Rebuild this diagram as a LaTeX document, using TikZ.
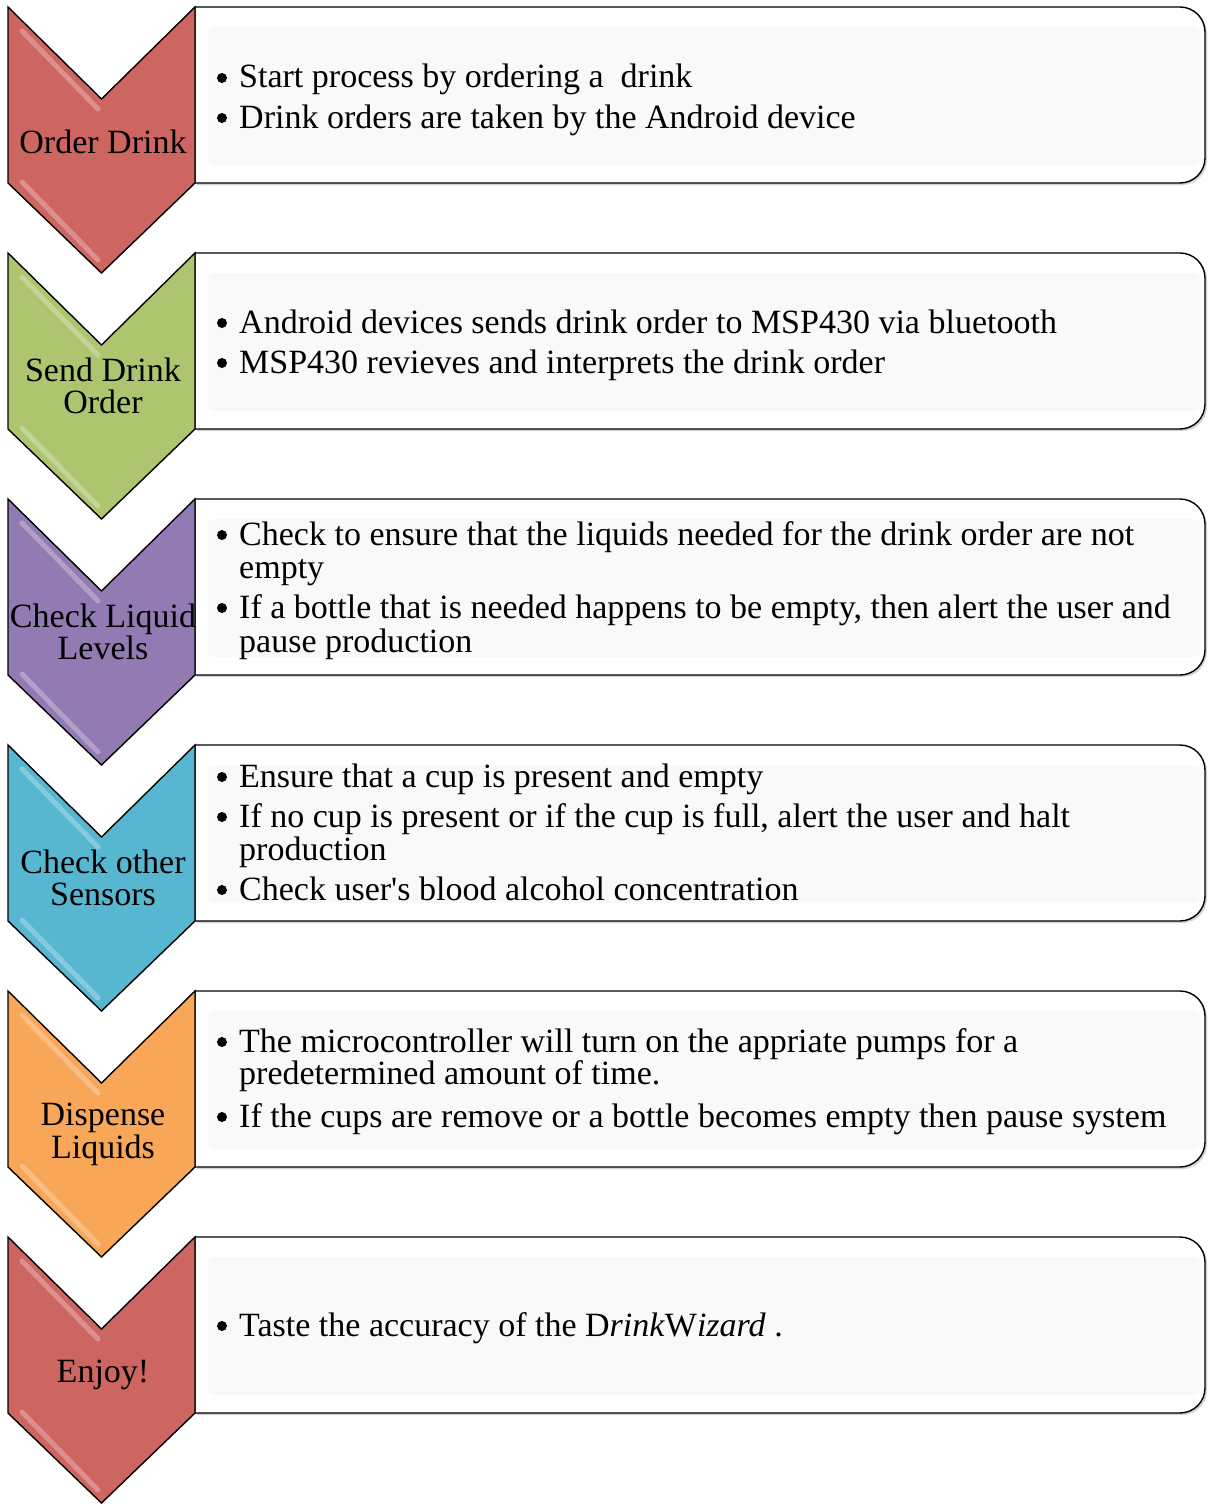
\documentclass[tikz,border=0pt]{standalone}
\usepackage{fontspec}
\setmainfont{Liberation Serif}[Ligatures=TeXOff]
\definecolor{cred}{HTML}{CD6660}
\definecolor{cgreen}{HTML}{ADC56E}
\definecolor{cpurple}{HTML}{927AB2}
\definecolor{caqua}{HTML}{58B7D0}
\definecolor{corange}{HTML}{F8A658}
\definecolor{inner}{HTML}{F9F9F9}
\tikzset{
  chev/.style={draw=black, line width=1.4pt, line join=miter},
  boxline/.style={draw=black, line width=1.4pt, fill=white},
  boxshadow/.style={fill=black!35, opacity=0.5},
  hl/.style={line width=5pt, white, opacity=0.28, line cap=round},
  txt/.style={anchor=base west, inner sep=0pt, font=\fontsize{34}{40}\selectfont},
  bul/.style={circle, fill=black, inner sep=0pt, minimum size=10pt},
  lab/.style={anchor=base, inner sep=0pt, font=\fontsize{34}{40}\selectfont},
}
\begin{document}
\begin{tikzpicture}[x=1pt,y=1pt]
\useasboundingbox (0,0) rectangle (1207,-1504);
% boxes
\foreach \T in {7,253,499,745,991,1237}{
  \fill[boxshadow, xshift=2pt, yshift=-2pt] (195,-\T) -- (1180,-\T) arc[start angle=90,end angle=0,radius=25] -- (1205,-\T-151) arc[start angle=0,end angle=-90,radius=25] -- (195,-\T-176) -- cycle;
  \draw[boxline] (195,-\T) -- (1180,-\T) arc[start angle=90,end angle=0,radius=25] -- (1205,-\T-151) arc[start angle=0,end angle=-90,radius=25] -- (195,-\T-176) -- cycle;
  \fill[inner, rounded corners=6pt] (208,-\T-20) rectangle (1200,-\T-158);
}
% chevrons
\foreach \T/\c in {7/cred,253/cgreen,499/cpurple,745/caqua,991/corange,1237/cred}{
  \draw[chev, fill=\c] (8,-\T) -- (101.5,-\T-92) -- (195,-\T) -- (195,-\T-176) -- (101.5,-\T-266) -- (8,-\T-176) -- cycle;
  \draw[hl] (22,-\T-24) -- (98,-\T-102);
  \draw[hl] (22,-\T-175) -- (98,-\T-253);
}
% labels
\node[lab] (l1) at (103,-153) {Order Drink};
\node[lab] (l2a) at (103,-381) {Send Drink};
\node[lab] (l2b) at (103,-413) {Order};
\node[lab] (l3a) at (103,-627) {Check Liquid};
\node[lab] (l3b) at (103,-659) {Levels};
\node[lab] (l4a) at (103,-873) {Check other};
\node[lab] (l4b) at (103,-905) {Sensors};
\node[lab] (l5a) at (103,-1125) {Dispense};
\node[lab] (l5b) at (103,-1158) {Liquids};
\node[lab] (l6) at (103,-1382) {Enjoy!};
% box 1
\node[bul] (b1a) at (222,-78) {};
\node[txt] (t1a) at (239,-88) {Start process by ordering a\ \ drink};
\node[bul] (b1b) at (222,-118) {};
\node[txt] (t1b) at (239,-128) {Drink orders are taken by the Android device};
% box 2
\node[bul] (b2a) at (222,-323) {};
\node[txt] (t2a) at (239,-333) {Android devices sends drink order to MSP430 via bluetooth};
\node[bul] (b2b) at (222,-363) {};
\node[txt] (t2b) at (239,-373) {MSP430 revieves and interprets the drink order};
% box 3
\node[bul] (b3a) at (222,-535) {};
\node[txt] (t3a) at (239,-545) {Check to ensure that the liquids needed for the drink order are not};
\node[txt] (t3b) at (239,-578) {empty};
\node[bul] (b3c) at (222,-608) {};
\node[txt] (t3c) at (239,-618) {If a bottle that is needed happens to be empty, then alert the user and};
\node[txt] (t3d) at (239,-652) {pause production};
% box 4
\node[bul] (b4a) at (222,-777) {};
\node[txt] (t4a) at (239,-787) {Ensure that a cup is present and empty};
\node[bul] (b4b) at (222,-817) {};
\node[txt] (t4b) at (239,-827) {If no cup is present or if the cup is full, alert the user and halt};
\node[txt] (t4c) at (239,-860) {production};
\node[bul] (b4d) at (222,-890) {};
\node[txt] (t4d) at (239,-900) {Check user's blood alcohol concentration};
% box 5
\node[bul] (b5a) at (222,-1042) {};
\node[txt] (t5a) at (239,-1052) {The microcontroller will turn on the appriate pumps for a};
\node[txt] (t5b) at (239,-1084) {predetermined amount of time.};
\node[bul] (b5c) at (222,-1117) {};
\node[txt] (t5c) at (239,-1127) {If the cups are remove or a bottle becomes empty then pause system};
% box 6
\node[bul] (b6a) at (222,-1326) {};
\node[txt] (t6a) at (239,-1336) {Taste the accuracy of the D\textit{rink}W\textit{izard} .};
\end{tikzpicture}
\end{document}
